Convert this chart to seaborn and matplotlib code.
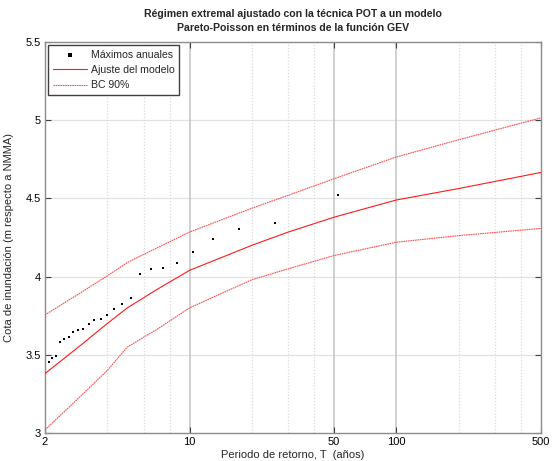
import matplotlib
matplotlib.use("Agg")
import matplotlib.pyplot as plt
import seaborn as sns
import pandas as pd
from matplotlib.ticker import FixedLocator, NullFormatter, FixedFormatter

# --- data ---
obs_T = [52.0, 26.0, 17.33, 13.0, 10.4, 8.67, 7.43, 6.5, 5.78, 5.2, 4.73, 4.33,
         4.0, 3.71, 3.47, 3.25, 3.06, 2.89, 2.74, 2.6, 2.48, 2.36, 2.26, 2.17, 2.08]
obs_z = [4.519, 4.344, 4.305, 4.241, 4.158, 4.084, 4.056, 4.046, 4.016, 3.866, 3.826, 3.794,
         3.756, 3.732, 3.72, 3.70, 3.666, 3.658, 3.648, 3.612, 3.601, 3.583, 3.494, 3.477, 3.455]

curve_T = [2, 3, 4, 5, 7, 10, 20, 30, 50, 100, 200, 500]
fit_z   = [3.38, 3.565, 3.70, 3.80, 3.92, 4.04, 4.20, 4.285, 4.38, 4.49, 4.563, 4.666]
upper_z = [3.755, 3.90, 4.005, 4.09, 4.185, 4.285, 4.437, 4.52, 4.626, 4.765, 4.875, 5.015]
lower_z = [3.02, 3.24, 3.40, 3.55, 3.665, 3.80, 3.98, 4.05, 4.135, 4.22, 4.262, 4.308]

x_ticks = [2, 10, 50, 100, 500]
x_minor = [4, 6, 8, 20, 30, 40, 200, 300, 400]
y_ticks = [3, 3.5, 4, 4.5, 5, 5.5]

sns.set_style("white")
plt.rcParams['font.family'] = ['Liberation Sans', 'DejaVu Sans']

fig = plt.figure(figsize=(5.53, 4.61), dpi=100)
ax = fig.add_axes([45/553, 28/461, 496/553, 391/461])

obs = pd.DataFrame({"T": obs_T, "z": obs_z})
cur = pd.DataFrame({"T": curve_T, "fit": fit_z, "up": upper_z, "lo": lower_z})

# grid
for yv in y_ticks[1:-1]:
    ax.axhline(yv, color="#e2e2e2", lw=0.9, zorder=0)
for xv in [10, 50, 100]:
    ax.axvline(xv, color="#c4c4c4", lw=1.1, zorder=0)
for xv in x_minor:
    ax.axvline(xv, color="#dadada", lw=0.9, ls=(0, (1, 1.5)), zorder=0)

sns.scatterplot(data=obs, x="T", y="z", ax=ax, color="black", marker="s", s=4,
                linewidth=0, label="Máximos anuales", zorder=5)
sns.lineplot(data=cur, x="T", y="fit", ax=ax, color="#ff1a1a", lw=0.8,
             label="Ajuste del modelo", zorder=4)
sns.lineplot(data=cur, x="T", y="up", ax=ax, color="#ff4d4d", lw=0.8,
             ls=(0, (1.5, 0.6)), label="BC 90%", zorder=4)
sns.lineplot(data=cur, x="T", y="lo", ax=ax, color="#ff4d4d", lw=0.8,
             ls=(0, (1.5, 0.6)), zorder=4)

ax.set_xscale("log")
ax.set_xlim(2, 500)
ax.set_ylim(3, 5.5)
ax.xaxis.set_major_locator(FixedLocator(x_ticks))
ax.xaxis.set_major_formatter(FixedFormatter([str(v) for v in x_ticks]))
ax.xaxis.set_minor_locator(FixedLocator([]))
ax.xaxis.set_minor_formatter(NullFormatter())
ax.set_yticks(y_ticks)
ax.set_yticklabels(["3", "3.5", "4", "4.5", "5", "5.5"])
ax.tick_params(axis="both", direction="in", length=4, width=0.8, labelsize=8,
               colors="#404040", labelcolor="black", pad=3)
ax.tick_params(axis="both", which="both", top=True, right=True, bottom=True, left=True)

for sp in ax.spines.values():
    sp.set_color("#8c8c8c")
    sp.set_linewidth(1.0)

ax.set_xlabel("Periodo de retorno, T  (años)", fontsize=8, labelpad=2)
ax.set_ylabel("Cota de inundación (m respecto a NMMA)", fontsize=8, labelpad=8)
ax.set_title("Régimen extremal ajustado con la técnica POT a un modelo\n"
             "Pareto-Poisson en términos de la función GEV",
             fontsize=7.6, fontweight="bold", pad=8, linespacing=1.45)

leg = ax.legend(loc="upper left", fontsize=7.6, frameon=True, fancybox=False,
                framealpha=1, edgecolor="#404040", borderaxespad=0.3,
                handlelength=3.2, handletextpad=0.4, labelspacing=0.5,
                borderpad=0.45, markerscale=1.3)
leg.get_frame().set_linewidth(1.0)

fig.savefig("out.png", dpi=100)
